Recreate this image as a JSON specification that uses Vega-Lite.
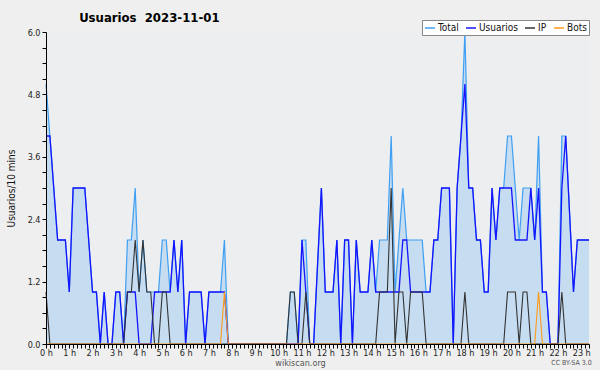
{
  "$schema": "https://vega.github.io/schema/vega-lite/v6.json",
  "width": 543,
  "height": 312,
  "autosize": {"type": "none"},
  "padding": {"left": 46, "top": 32, "right": 11, "bottom": 26},
  "background": "#efefef",
  "title": {"text": "Usuarios\u00a0\u00a02023-11-01", "anchor": "start", "dx": 73, "dy": 14, "offset": 9, "fontSize": 13, "font": "DejaVu Sans Condensed", "fontWeight": "bold", "color": "#000"},
  "config": {
    "view": {"fill": "#eceef0", "stroke": null},
    "font": "DejaVu Sans Condensed",
    "legend": {"orient": "none", "legendX": 376, "legendY": -12, "direction": "horizontal", "fillColor": "#ffffff", "strokeColor": "#888888", "padding": 2, "symbolType": "stroke", "symbolSize": 100, "symbolStrokeWidth": 1.5, "labelFontSize": 10, "labelColor": "#111", "labelOffset": 2, "columnPadding": 4, "title": null}
  },
  "data": {"values": [
    {"i":0,"Total":5,"Usuarios":4,"IP":1,"Bots":0},
    {"i":1,"Total":4,"Usuarios":4,"IP":0,"Bots":0},
    {"i":2,"Total":3,"Usuarios":3,"IP":0,"Bots":0},
    {"i":3,"Total":2,"Usuarios":2,"IP":0,"Bots":0},
    {"i":4,"Total":2,"Usuarios":2,"IP":0,"Bots":0},
    {"i":5,"Total":2,"Usuarios":2,"IP":0,"Bots":0},
    {"i":6,"Total":1,"Usuarios":1,"IP":0,"Bots":0},
    {"i":7,"Total":3,"Usuarios":3,"IP":0,"Bots":0},
    {"i":8,"Total":3,"Usuarios":3,"IP":0,"Bots":0},
    {"i":9,"Total":3,"Usuarios":3,"IP":0,"Bots":0},
    {"i":10,"Total":3,"Usuarios":3,"IP":0,"Bots":0},
    {"i":11,"Total":2,"Usuarios":2,"IP":0,"Bots":0},
    {"i":12,"Total":1,"Usuarios":1,"IP":0,"Bots":0},
    {"i":13,"Total":1,"Usuarios":1,"IP":0,"Bots":0},
    {"i":14,"Total":0,"Usuarios":0,"IP":0,"Bots":0},
    {"i":15,"Total":1,"Usuarios":1,"IP":0,"Bots":0},
    {"i":16,"Total":0,"Usuarios":0,"IP":0,"Bots":0},
    {"i":17,"Total":0,"Usuarios":0,"IP":0,"Bots":0},
    {"i":18,"Total":1,"Usuarios":1,"IP":0,"Bots":0},
    {"i":19,"Total":1,"Usuarios":1,"IP":0,"Bots":0},
    {"i":20,"Total":0,"Usuarios":0,"IP":0,"Bots":0},
    {"i":21,"Total":2,"Usuarios":1,"IP":1,"Bots":0},
    {"i":22,"Total":2,"Usuarios":1,"IP":1,"Bots":0},
    {"i":23,"Total":3,"Usuarios":1,"IP":2,"Bots":0},
    {"i":24,"Total":1,"Usuarios":0,"IP":1,"Bots":0},
    {"i":25,"Total":2,"Usuarios":0,"IP":2,"Bots":0},
    {"i":26,"Total":1,"Usuarios":0,"IP":1,"Bots":0},
    {"i":27,"Total":1,"Usuarios":0,"IP":1,"Bots":0},
    {"i":28,"Total":1,"Usuarios":1,"IP":0,"Bots":0},
    {"i":29,"Total":1,"Usuarios":1,"IP":0,"Bots":0},
    {"i":30,"Total":2,"Usuarios":1,"IP":1,"Bots":0},
    {"i":31,"Total":2,"Usuarios":1,"IP":1,"Bots":0},
    {"i":32,"Total":1,"Usuarios":1,"IP":0,"Bots":0},
    {"i":33,"Total":2,"Usuarios":2,"IP":0,"Bots":0},
    {"i":34,"Total":1,"Usuarios":1,"IP":0,"Bots":0},
    {"i":35,"Total":2,"Usuarios":2,"IP":0,"Bots":0},
    {"i":36,"Total":0,"Usuarios":0,"IP":0,"Bots":0},
    {"i":37,"Total":1,"Usuarios":1,"IP":0,"Bots":0},
    {"i":38,"Total":1,"Usuarios":1,"IP":0,"Bots":0},
    {"i":39,"Total":1,"Usuarios":1,"IP":0,"Bots":0},
    {"i":40,"Total":1,"Usuarios":1,"IP":0,"Bots":0},
    {"i":41,"Total":0,"Usuarios":0,"IP":0,"Bots":0},
    {"i":42,"Total":1,"Usuarios":1,"IP":0,"Bots":0},
    {"i":43,"Total":1,"Usuarios":1,"IP":0,"Bots":0},
    {"i":44,"Total":1,"Usuarios":1,"IP":0,"Bots":0},
    {"i":45,"Total":1,"Usuarios":1,"IP":0,"Bots":0},
    {"i":46,"Total":2,"Usuarios":1,"IP":0,"Bots":1},
    {"i":47,"Total":0,"Usuarios":0,"IP":0,"Bots":0},
    {"i":48,"Total":0,"Usuarios":0,"IP":0,"Bots":0},
    {"i":49,"Total":0,"Usuarios":0,"IP":0,"Bots":0},
    {"i":50,"Total":0,"Usuarios":0,"IP":0,"Bots":0},
    {"i":51,"Total":0,"Usuarios":0,"IP":0,"Bots":0},
    {"i":52,"Total":0,"Usuarios":0,"IP":0,"Bots":0},
    {"i":53,"Total":0,"Usuarios":0,"IP":0,"Bots":0},
    {"i":54,"Total":0,"Usuarios":0,"IP":0,"Bots":0},
    {"i":55,"Total":0,"Usuarios":0,"IP":0,"Bots":0},
    {"i":56,"Total":0,"Usuarios":0,"IP":0,"Bots":0},
    {"i":57,"Total":0,"Usuarios":0,"IP":0,"Bots":0},
    {"i":58,"Total":0,"Usuarios":0,"IP":0,"Bots":0},
    {"i":59,"Total":0,"Usuarios":0,"IP":0,"Bots":0},
    {"i":60,"Total":0,"Usuarios":0,"IP":0,"Bots":0},
    {"i":61,"Total":0,"Usuarios":0,"IP":0,"Bots":0},
    {"i":62,"Total":0,"Usuarios":0,"IP":0,"Bots":0},
    {"i":63,"Total":1,"Usuarios":0,"IP":1,"Bots":0},
    {"i":64,"Total":1,"Usuarios":0,"IP":1,"Bots":0},
    {"i":65,"Total":0,"Usuarios":0,"IP":0,"Bots":0},
    {"i":66,"Total":2,"Usuarios":2,"IP":0,"Bots":0},
    {"i":67,"Total":2,"Usuarios":1,"IP":1,"Bots":0},
    {"i":68,"Total":0,"Usuarios":0,"IP":0,"Bots":0},
    {"i":69,"Total":0,"Usuarios":0,"IP":0,"Bots":0},
    {"i":70,"Total":1.5,"Usuarios":1.5,"IP":0,"Bots":0},
    {"i":71,"Total":3,"Usuarios":3,"IP":0,"Bots":0},
    {"i":72,"Total":1,"Usuarios":1,"IP":0,"Bots":0},
    {"i":73,"Total":1,"Usuarios":1,"IP":0,"Bots":0},
    {"i":74,"Total":1,"Usuarios":1,"IP":0,"Bots":0},
    {"i":75,"Total":2,"Usuarios":2,"IP":0,"Bots":0},
    {"i":76,"Total":0,"Usuarios":0,"IP":0,"Bots":0},
    {"i":77,"Total":2,"Usuarios":2,"IP":0,"Bots":0},
    {"i":78,"Total":2,"Usuarios":2,"IP":0,"Bots":0},
    {"i":79,"Total":0,"Usuarios":0,"IP":0,"Bots":0},
    {"i":80,"Total":2,"Usuarios":2,"IP":0,"Bots":0},
    {"i":81,"Total":1,"Usuarios":1,"IP":0,"Bots":0},
    {"i":82,"Total":1,"Usuarios":1,"IP":0,"Bots":0},
    {"i":83,"Total":1,"Usuarios":1,"IP":0,"Bots":0},
    {"i":84,"Total":2,"Usuarios":2,"IP":0,"Bots":0},
    {"i":85,"Total":1,"Usuarios":1,"IP":0,"Bots":0},
    {"i":86,"Total":2,"Usuarios":1,"IP":1,"Bots":0},
    {"i":87,"Total":2,"Usuarios":1,"IP":1,"Bots":0},
    {"i":88,"Total":2,"Usuarios":1,"IP":1,"Bots":0},
    {"i":89,"Total":4,"Usuarios":1,"IP":3,"Bots":0},
    {"i":90,"Total":1,"Usuarios":1,"IP":0,"Bots":0},
    {"i":91,"Total":2,"Usuarios":1,"IP":1,"Bots":0},
    {"i":92,"Total":3,"Usuarios":2,"IP":1,"Bots":0},
    {"i":93,"Total":2,"Usuarios":2,"IP":0,"Bots":0},
    {"i":94,"Total":2,"Usuarios":1,"IP":1,"Bots":0},
    {"i":95,"Total":2,"Usuarios":1,"IP":1,"Bots":0},
    {"i":96,"Total":2,"Usuarios":1,"IP":1,"Bots":0},
    {"i":97,"Total":2,"Usuarios":1,"IP":1,"Bots":0},
    {"i":98,"Total":1,"Usuarios":1,"IP":0,"Bots":0},
    {"i":99,"Total":1,"Usuarios":1,"IP":0,"Bots":0},
    {"i":100,"Total":2,"Usuarios":2,"IP":0,"Bots":0},
    {"i":101,"Total":2,"Usuarios":2,"IP":0,"Bots":0},
    {"i":102,"Total":3,"Usuarios":3,"IP":0,"Bots":0},
    {"i":103,"Total":3,"Usuarios":3,"IP":0,"Bots":0},
    {"i":104,"Total":3,"Usuarios":3,"IP":0,"Bots":0},
    {"i":105,"Total":0,"Usuarios":0,"IP":0,"Bots":0},
    {"i":106,"Total":3,"Usuarios":3,"IP":0,"Bots":0},
    {"i":107,"Total":4,"Usuarios":4,"IP":0,"Bots":0},
    {"i":108,"Total":6,"Usuarios":5,"IP":1,"Bots":0},
    {"i":109,"Total":3,"Usuarios":3,"IP":0,"Bots":0},
    {"i":110,"Total":3,"Usuarios":3,"IP":0,"Bots":0},
    {"i":111,"Total":2,"Usuarios":2,"IP":0,"Bots":0},
    {"i":112,"Total":2,"Usuarios":2,"IP":0,"Bots":0},
    {"i":113,"Total":1,"Usuarios":1,"IP":0,"Bots":0},
    {"i":114,"Total":1,"Usuarios":1,"IP":0,"Bots":0},
    {"i":115,"Total":3,"Usuarios":3,"IP":0,"Bots":0},
    {"i":116,"Total":2,"Usuarios":2,"IP":0,"Bots":0},
    {"i":117,"Total":3,"Usuarios":3,"IP":0,"Bots":0},
    {"i":118,"Total":3,"Usuarios":3,"IP":0,"Bots":0},
    {"i":119,"Total":4,"Usuarios":3,"IP":1,"Bots":0},
    {"i":120,"Total":4,"Usuarios":3,"IP":1,"Bots":0},
    {"i":121,"Total":3,"Usuarios":2,"IP":1,"Bots":0},
    {"i":122,"Total":2,"Usuarios":2,"IP":0,"Bots":0},
    {"i":123,"Total":3,"Usuarios":2,"IP":1,"Bots":0},
    {"i":124,"Total":3,"Usuarios":2,"IP":1,"Bots":0},
    {"i":125,"Total":3,"Usuarios":3,"IP":0,"Bots":0},
    {"i":126,"Total":2,"Usuarios":2,"IP":0,"Bots":0},
    {"i":127,"Total":4,"Usuarios":3,"IP":0,"Bots":1},
    {"i":128,"Total":1,"Usuarios":1,"IP":0,"Bots":0},
    {"i":129,"Total":1,"Usuarios":1,"IP":0,"Bots":0},
    {"i":130,"Total":0,"Usuarios":0,"IP":0,"Bots":0},
    {"i":131,"Total":0,"Usuarios":0,"IP":0,"Bots":0},
    {"i":132,"Total":0,"Usuarios":0,"IP":0,"Bots":0},
    {"i":133,"Total":4,"Usuarios":3,"IP":1,"Bots":0},
    {"i":134,"Total":4,"Usuarios":4,"IP":0,"Bots":0},
    {"i":135,"Total":2.5,"Usuarios":2.5,"IP":0,"Bots":0},
    {"i":136,"Total":1,"Usuarios":1,"IP":0,"Bots":0},
    {"i":137,"Total":2,"Usuarios":2,"IP":0,"Bots":0},
    {"i":138,"Total":2,"Usuarios":2,"IP":0,"Bots":0},
    {"i":139,"Total":2,"Usuarios":2,"IP":0,"Bots":0},
    {"i":140,"Total":2,"Usuarios":2,"IP":0,"Bots":0}
  ]},
  "transform": [{"fold": ["Total", "Usuarios", "IP", "Bots"], "as": ["serie", "v"]}],
  "encoding": {
    "x": {"field": "i", "type": "quantitative", "scale": {"domain": [0, 140], "nice": false, "zero": false},
      "axis": {"values": [0,1,2,3,4,5,6,7,8,9,10,11,12,13,14,15,16,17,18,19,20,21,22,23,24,25,26,27,28,29,30,31,32,33,34,35,36,37,38,39,40,41,42,43,44,45,46,47,48,49,50,51,52,53,54,55,56,57,58,59,60,61,62,63,64,65,66,67,68,69,70,71,72,73,74,75,76,77,78,79,80,81,82,83,84,85,86,87,88,89,90,91,92,93,94,95,96,97,98,99,100,101,102,103,104,105,106,107,108,109,110,111,112,113,114,115,116,117,118,119,120,121,122,123,124,125,126,127,128,129,130,131,132,133,134,135,136,137,138,139,140],
        "labelExpr": "datum.value % 6 === 0 ? (datum.value / 6) + ' h' : ''",
        "labelOverlap": false, "labelFlush": false, "labelBound": false, "grid": false,
        "tickSize": 4, "tickColor": "#000", "domainColor": "#000", "labelPadding": 0, "labelFontSize": 9, "labelColor": "#222",
        "title": "wikiscan.org", "titleFontSize": 9, "titleFontWeight": "normal", "titleColor": "#555", "titleX": 254, "titleY": 18, "titleBaseline": "middle", "zindex": 1}}
  },
  "layer": [
    {
      "transform": [{"filter": "datum.serie === 'Total'"}],
      "mark": {"type": "area", "color": "#c6dcf0", "opacity": 1},
      "encoding": {
        "y": {"field": "v", "type": "quantitative", "scale": {"domain": [0, 6], "nice": false},
          "axis": {"orient": "right", "domain": false, "ticks": false, "labels": false, "grid": false, "title": "CC BY-SA 3.0", "titleAngle": 0, "titleX": -18, "titleY": 330, "titleAlign": "center", "titleBaseline": "middle", "titleFontSize": 7, "titleFontWeight": "normal", "titleColor": "#555"}}
      }
    },
    {
      "encoding": {
        "y": {"field": "v", "type": "quantitative", "scale": {"domain": [0, 6], "nice": false},
          "axis": {"orient": "left", "title": "Usuarios/10 mins", "values": [0,0.3,0.6,0.9,1.2,1.5,1.8,2.1,2.4,2.7,3,3.3,3.6,3.9,4.2,4.5,4.8,5.1,5.4,5.7,6],
            "labelExpr": "abs(datum.value / 1.2 - round(datum.value / 1.2)) < 0.01 ? format(datum.value, '.1f') : ''",
            "gridOpacity": {"condition": {"test": "abs(datum.value / 1.2 - round(datum.value / 1.2)) < 0.01", "value": 1}, "value": 0},
            "gridColor": "#c8c8c8", "tickSize": 4, "tickColor": "#000", "domainColor": "#000", "labelPadding": 2, "labelFontSize": 9, "labelColor": "#222", "labelOverlap": false, "labelBound": false, "labelFlush": false,
            "titleFontSize": 10, "titleFontWeight": "normal", "titleColor": "#111", "titlePadding": 11, "zindex": 1}},
        "color": {"field": "serie", "type": "nominal", "scale": {"domain": ["Total", "Usuarios", "IP", "Bots"], "range": ["#3f9ff2", "#1414ff", "#333333", "#ff9a1a"]}}
      },
      "layer": [
        {"transform": [{"filter": "datum.serie === 'Total'"}], "mark": {"type": "line", "strokeWidth": 1.2}},
        {"transform": [{"filter": "datum.serie === 'Usuarios'"}], "mark": {"type": "line", "strokeWidth": 1.3}},
        {"transform": [{"filter": "datum.serie === 'IP'"}], "mark": {"type": "line", "strokeWidth": 1.1}},
        {"transform": [{"filter": "datum.serie === 'Bots'"}], "mark": {"type": "line", "strokeWidth": 1.1}}
      ]
    }
  ],
  "resolve": {"axis": {"y": "independent"}}
}
